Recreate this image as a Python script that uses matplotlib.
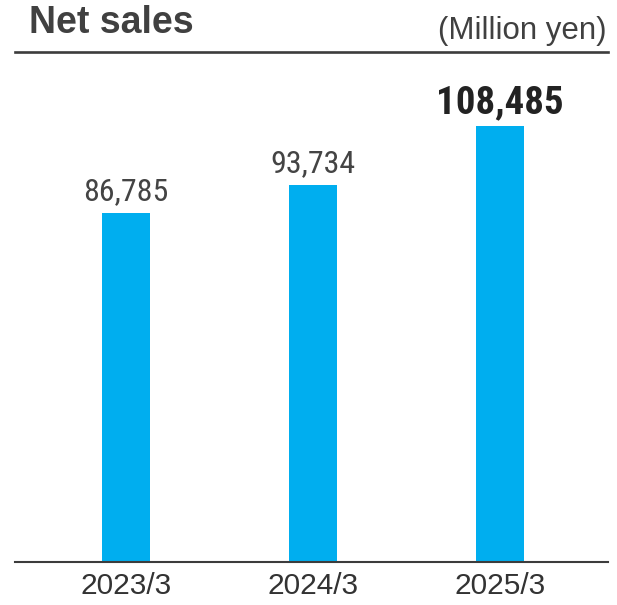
import matplotlib.pyplot as plt
from matplotlib import font_manager

# Data
years = ['2023/3', '2024/3', '2025/3']
net_sales = [86785, 93734, 108485]
highlight = [False, False, True]

bar_color = '#00AEEF'
line_color = '#3c3c3c'
text_color = '#404040'

# condensed font for value labels, with sizes (normal, bold) for each option
names = {f.name for f in font_manager.fontManager.ttflist}
options = [('Liberation Sans Narrow', 24, 29), ('DejaVu Sans Condensed', 21, 24.5),
           ('Roboto Condensed', 23, 28), ('Roboto', 21, 27)]
narrow, fs_norm, fs_bold = next((o for o in options if o[0] in names), ('DejaVu Sans', 18, 21))

fig = plt.figure(figsize=(6.17, 6.05), dpi=100)
ax = fig.add_axes([15 / 617, 43 / 605, 593 / 617, 510 / 605])

x = list(range(len(years)))
ax.bar(x, net_sales, width=0.257, color=bar_color, zorder=2)

for xi, v, hl in zip(x, net_sales, highlight):
    ax.annotate('{:,}'.format(v), (xi, v), xytext=(0, 9.5), textcoords='offset points',
                ha='center', va='baseline', family=narrow,
                fontsize=fs_bold if hl else fs_norm, fontweight='bold' if hl else 'normal',
                color='#222222' if hl else '#444444')

ax.set_xlim(-0.596, 2.580)
ax.set_ylim(0, 126900)
ax.set_xticks(x)
ax.set_xticklabels(years, family='Liberation Sans', fontsize=21.5, color='#333333')
ax.tick_params(axis='x', length=0, pad=7)
ax.set_yticks([])

for s in ['left', 'right']:
    ax.spines[s].set_visible(False)
ax.spines['top'].set_color(line_color)
ax.spines['top'].set_linewidth(1.9)
ax.spines['bottom'].set_color(line_color)
ax.spines['bottom'].set_linewidth(1.5)

fig.text(29 / 617, 1 - 33 / 605, 'Net sales', family='Liberation Sans', fontsize=27,
         fontweight='bold', color=text_color, ha='left', va='baseline')
fig.text(607 / 617, 1 - 39 / 605, '(Million yen)', family='Liberation Sans', fontsize=22.5,
         color=text_color, ha='right', va='baseline')

fig.savefig('out.png', dpi=100)
